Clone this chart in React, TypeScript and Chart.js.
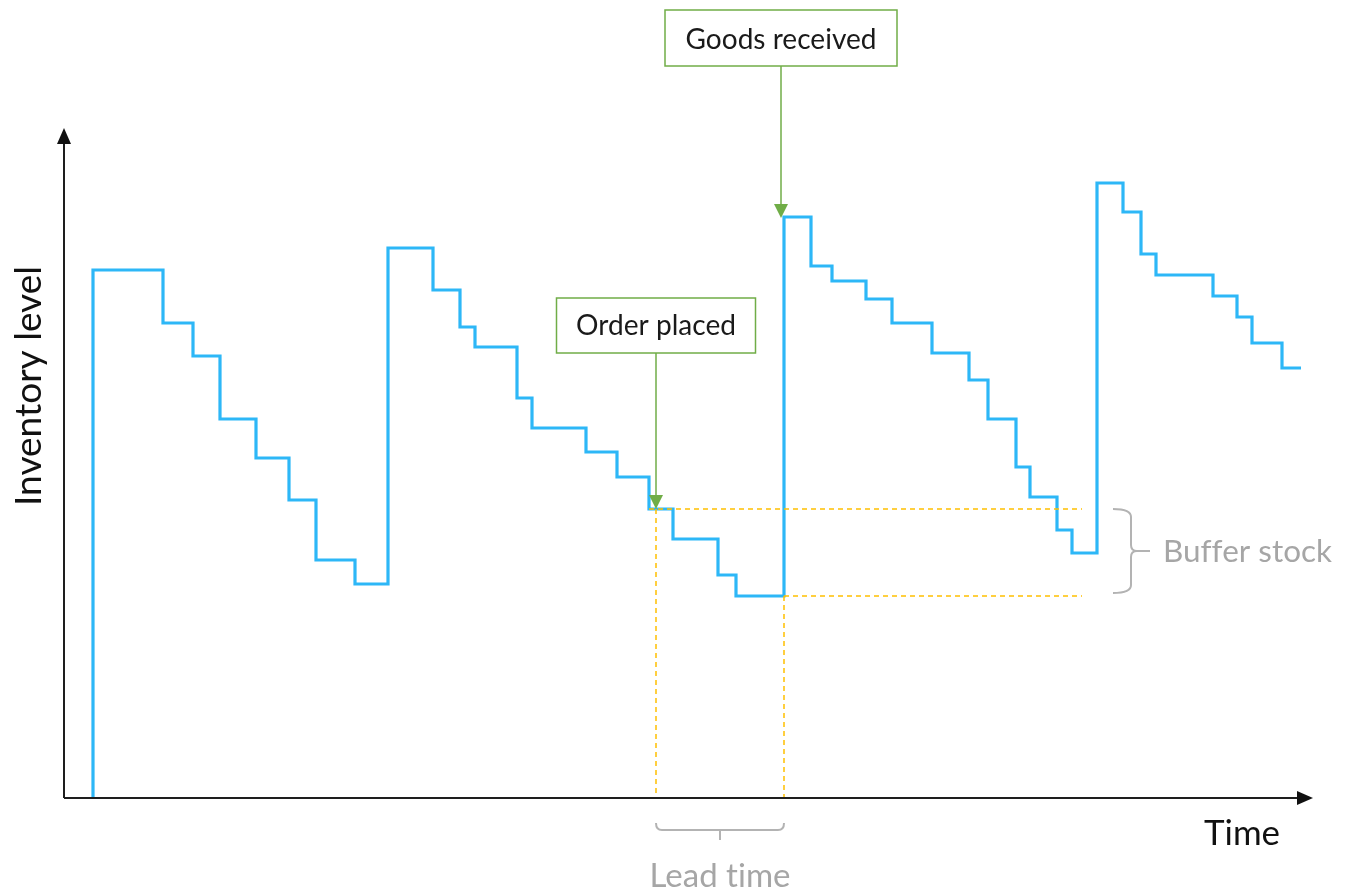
import { useEffect, useRef } from "react";
import { Chart, registerables } from "chart.js";

Chart.register(...registerables);

// Step changes of the inventory curve: time and stock level after the change
const stepTimes = [
  29, 29, 99, 129, 156, 192, 225, 252, 291,
  324, 369, 396, 411, 453, 468, 522, 553, 585, 609, 654, 672,
  720, 747, 768, 802, 828, 868, 905, 924, 952, 966, 993, 1008,
  1033, 1059, 1077, 1092, 1149, 1173, 1188, 1218, 1237,
];
const stockLevels = [
  0, 528, 475, 442, 379, 340, 298, 238, 214,
  550, 508, 471, 451, 400, 370, 346, 321, 289, 259, 223, 202,
  581, 532, 517, 499, 475, 445, 418, 379, 331, 301, 268, 245,
  615, 586, 544, 523, 502, 481, 455, 430, 430,
];

// Reference levels / times for the annotations
const reorderLevel = 289;
const minimumLevel = 202;
const orderTime = 592;
const receiveTime = 720;
const reorderLineStart = 585;
const guideLineEnd = 1018;
const receivedLevel = 581;

const xMax = 1249;
const yMax = 670;

const axisLabels = { x: "Time", y: "Inventory level" };
const calloutLabels = { order: "Order placed", received: "Goods received" };
const braceLabels = { buffer: "Buffer stock", lead: "Lead time" };

const FONT = "Lato, 'Open Sans', sans-serif";

function fitFont(ctx: CanvasRenderingContext2D, text: string, width: number) {
  ctx.font = `100px ${FONT}`;
  const w = ctx.measureText(text).width;
  const size = (100 * width) / w;
  ctx.font = `${size}px ${FONT}`;
}

const overlayPlugin = {
  id: "overlay",
  afterDatasetsDraw(chart: any) {
    const ctx: CanvasRenderingContext2D = chart.ctx;
    const { left, right, top, bottom } = chart.chartArea;
    const xs = chart.scales.x;
    const ys = chart.scales.y;
    ctx.save();
    try {
      (ctx as any).letterSpacing = "0.01px";
    } catch (e) {
      /* ignore */
    }

    // ---- axes with arrow heads
    ctx.strokeStyle = "#1e1e1e";
    ctx.fillStyle = "#111";
    ctx.lineWidth = 2;
    ctx.beginPath();
    ctx.moveTo(left, bottom);
    ctx.lineTo(left, top + 12);
    ctx.moveTo(left, bottom);
    ctx.lineTo(right - 12, bottom);
    ctx.stroke();
    ctx.beginPath();
    ctx.moveTo(left, top);
    ctx.lineTo(left - 7, top + 16);
    ctx.lineTo(left + 7, top + 16);
    ctx.closePath();
    ctx.fill();
    ctx.beginPath();
    ctx.moveTo(right, bottom);
    ctx.lineTo(right - 16, bottom - 7);
    ctx.lineTo(right - 16, bottom + 7);
    ctx.closePath();
    ctx.fill();

    // ---- axis titles
    ctx.fillStyle = "#111";
    ctx.textBaseline = "alphabetic";
    fitFont(ctx, axisLabels.x, 76);
    ctx.textAlign = "left";
    ctx.fillText(axisLabels.x, 1204, 845);
    ctx.save();
    ctx.translate(41, 386);
    ctx.rotate(-Math.PI / 2);
    fitFont(ctx, axisLabels.y, 240);
    ctx.textAlign = "center";
    ctx.fillText(axisLabels.y, 0, 0);
    ctx.restore();

    // ---- callout boxes with arrows
    const green = "#70AD47";
    const callout = (
      text: string,
      cx: number,
      boxTop: number,
      boxW: number,
      boxH: number,
      textW: number,
      baseline: number,
      tipY: number
    ) => {
      ctx.fillStyle = "#ffffff";
      ctx.fillRect(cx - boxW / 2, boxTop, boxW, boxH);
      ctx.strokeStyle = green;
      ctx.lineWidth = 1.5;
      ctx.strokeRect(cx - boxW / 2, boxTop, boxW, boxH);
      ctx.beginPath();
      ctx.moveTo(cx, boxTop + boxH);
      ctx.lineTo(cx, tipY - 12);
      ctx.stroke();
      ctx.fillStyle = green;
      ctx.beginPath();
      ctx.moveTo(cx, tipY);
      ctx.lineTo(cx - 7, tipY - 14);
      ctx.lineTo(cx + 7, tipY - 14);
      ctx.closePath();
      ctx.fill();
      ctx.fillStyle = "#1a1a1a";
      fitFont(ctx, text, textW);
      ctx.textAlign = "center";
      ctx.fillText(text, cx, baseline);
    };
    const recX = xs.getPixelForValue(receiveTime) - 3;
    callout(calloutLabels.received, recX, 10, 232, 56, 191, 49, ys.getPixelForValue(receivedLevel) + 1);
    const ordX = xs.getPixelForValue(orderTime);
    callout(calloutLabels.order, ordX, 298, 199, 55, 160, 335, ys.getPixelForValue(reorderLevel));

    // ---- braces
    const gray = "#b3b3b3";
    ctx.strokeStyle = gray;
    ctx.lineWidth = 2;
    // buffer stock (vertical brace)
    const yT = ys.getPixelForValue(reorderLevel);
    const yB = ys.getPixelForValue(minimumLevel) - 3;
    const ym = (yT + yB) / 2;
    const x0 = 1113;
    const x1 = 1131;
    ctx.beginPath();
    ctx.moveTo(x0, yT);
    ctx.quadraticCurveTo(x1, yT, x1, yT + 8);
    ctx.lineTo(x1, ym - 6);
    ctx.quadraticCurveTo(x1, ym, x1 + 6, ym);
    ctx.lineTo(1150, ym);
    ctx.moveTo(x1 + 6, ym);
    ctx.quadraticCurveTo(x1, ym, x1, ym + 6);
    ctx.lineTo(x1, yB - 8);
    ctx.quadraticCurveTo(x1, yB, x0, yB);
    ctx.stroke();
    ctx.fillStyle = "#a6a6a6";
    fitFont(ctx, braceLabels.buffer, 169);
    ctx.textAlign = "left";
    ctx.fillText(braceLabels.buffer, 1163, 562);

    // lead time (horizontal brace)
    const xa = xs.getPixelForValue(orderTime);
    const xb = xs.getPixelForValue(receiveTime);
    const xc = (xa + xb) / 2;
    const yb = 830;
    ctx.beginPath();
    ctx.moveTo(xa, yb - 7);
    ctx.quadraticCurveTo(xa, yb, xa + 6, yb);
    ctx.lineTo(xb - 6, yb);
    ctx.quadraticCurveTo(xb, yb, xb, yb - 7);
    ctx.moveTo(xc, yb);
    ctx.lineTo(xc, yb + 10);
    ctx.stroke();
    fitFont(ctx, braceLabels.lead, 141);
    ctx.textAlign = "center";
    ctx.fillText(braceLabels.lead, xc, 887);

    ctx.restore();
  },
};

export default function App() {
  const canvasRef = useRef<HTMLCanvasElement | null>(null);

  useEffect(() => {
    const canvas = canvasRef.current;
    if (!canvas) return;
    const stockPoints = stepTimes.map((t, i) => ({ x: t, y: stockLevels[i] }));
    const dashed = {
      borderColor: "#FFC000",
      borderWidth: 1.5,
      borderDash: [5, 4],
      pointRadius: 0,
      fill: false,
      clip: false as const,
    };
    const chart = new Chart(canvas, {
      type: "line",
      data: {
        datasets: [
          {
            ...dashed,
            label: "reorder level",
            data: [
              { x: reorderLineStart, y: reorderLevel },
              { x: guideLineEnd, y: reorderLevel },
            ],
          },
          {
            ...dashed,
            label: "minimum level",
            data: [
              { x: receiveTime, y: minimumLevel },
              { x: guideLineEnd, y: minimumLevel },
            ],
          },
          {
            ...dashed,
            label: "order time",
            data: [
              { x: orderTime, y: reorderLevel },
              { x: orderTime, y: 0 },
            ],
          },
          {
            ...dashed,
            label: "receive time",
            data: [
              { x: receiveTime, y: minimumLevel },
              { x: receiveTime, y: 0 },
            ],
          },
          {
            label: "Inventory level",
            data: stockPoints,
            stepped: "before",
            borderColor: "#2DB7F7",
            borderWidth: 3.2,
            pointRadius: 0,
            fill: false,
            borderJoinStyle: "miter",
            borderCapStyle: "butt",
            clip: false,
          },
        ],
      },
      options: {
        responsive: false,
        animation: false,
        devicePixelRatio: 1,
        layout: { padding: { left: 64, right: 35, top: 128, bottom: 95 } },
        plugins: { legend: { display: false }, tooltip: { enabled: false } },
        events: [],
        scales: {
          x: { type: "linear", min: 0, max: xMax, display: false },
          y: { type: "linear", min: 0, max: yMax, display: false },
        },
      },
      plugins: [overlayPlugin],
    } as any);
    return () => chart.destroy();
  }, []);

  return (
    <div style={{ position: "absolute", left: 0, top: 0, width: 1348, height: 893, background: "#fff" }}>
      <canvas ref={canvasRef} width={1348} height={893} />
    </div>
  );
}
